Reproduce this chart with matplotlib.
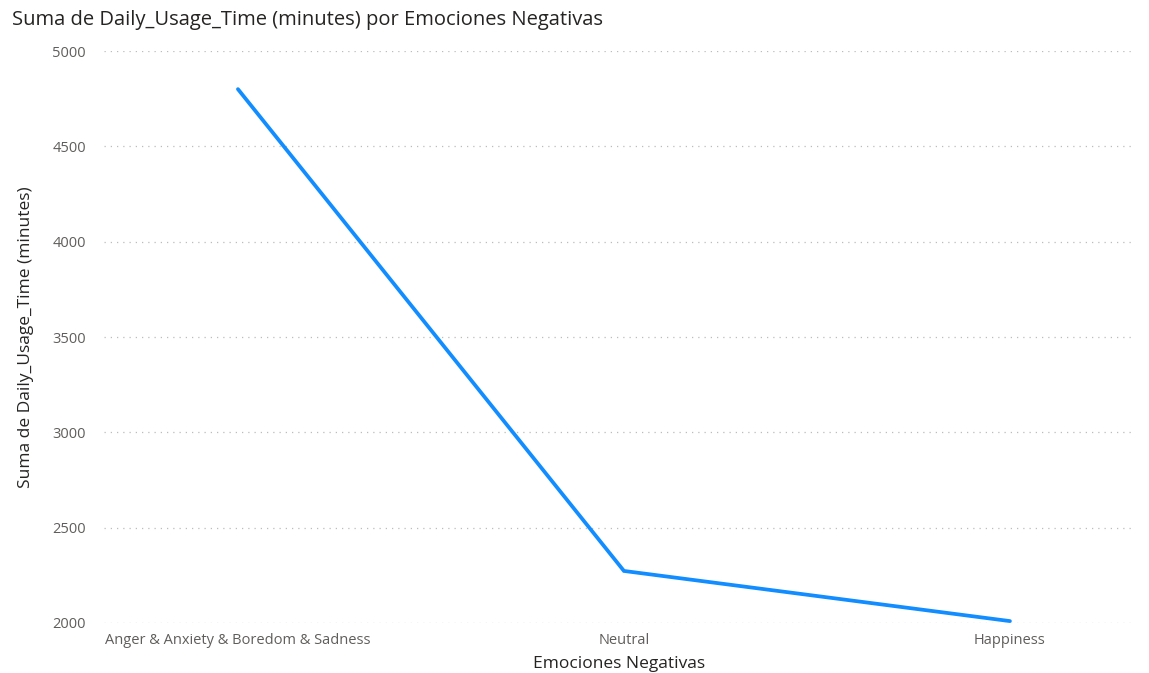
import matplotlib.pyplot as plt

plt.rcParams["font.family"] = ["Open Sans", "DejaVu Sans"]

categories = ["Anger & Anxiety & Boredom & Sadness", "Neutral", "Happiness"]
usage_minutes = [4800, 2273, 2010]
y_ticks = [2000, 2500, 3000, 3500, 4000, 4500, 5000]

W, H = 1149, 673
fig = plt.figure(figsize=(W / 100, H / 100), dpi=100)
ax = fig.add_axes([104 / W, 1 - 623 / H, (1135 - 104) / W, (623 - 51) / H])

x = list(range(len(categories)))
ax.plot(x, usage_minutes, color="#118DFF", linewidth=2.7, solid_capstyle="round",
        solid_joinstyle="miter", clip_on=False, zorder=3)

ax.set_ylim(2000, 5000)
ax.set_xlim(-0.347, 2.324)
ax.set_yticks(y_ticks)
ax.set_yticklabels([str(t) for t in y_ticks])
ax.set_xticks(x)
ax.set_xticklabels(categories)

ax.grid(axis="y", color="#BEBCBA", linestyle=(0, (1, 4)), linewidth=0.9)
ax.set_axisbelow(True)
for s in ax.spines.values():
    s.set_visible(False)
ax.tick_params(axis="both", length=0, colors="#605E5C", labelsize=10.5)
ax.tick_params(axis="y", pad=13)
ax.tick_params(axis="x", pad=7)

ax.set_xlabel("Emociones Negativas", fontsize=12.5, color="#252423", labelpad=6)
ax.set_ylabel("Suma de Daily_Usage_Time (minutes)", fontsize=12.5, color="#252423", labelpad=13)

fig.text(12 / W, 1 - 20 / H, "Suma de Daily_Usage_Time (minutes) por Emociones Negativas",
         fontsize=14.5, color="#252423", ha="left", va="center")

fig.savefig("out.png", dpi=100)
